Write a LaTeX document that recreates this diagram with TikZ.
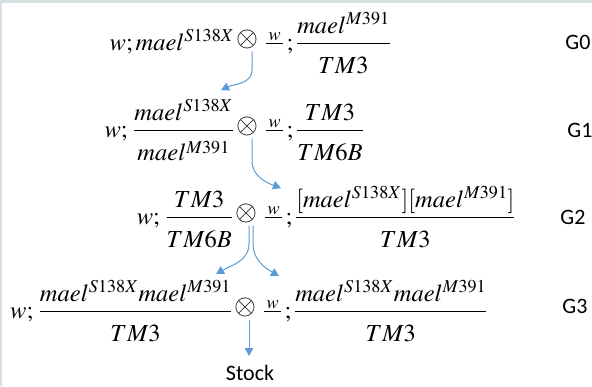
\documentclass[tikz,border=0pt]{standalone}
\usepackage{amsmath}
\usepackage{mathptmx}
\usepackage[no-math]{fontspec}
\newfontfamily\labelfont{Carlito}
\usepackage{tikz}
\usetikzlibrary{arrows.meta, positioning, calc}
\definecolor{flowblue}{HTML}{5B9BD5}
\definecolor{framegray}{HTML}{D9E0E3}
% lower the denominators as in the original typesetting
\newcommand{\dstrut}{\rule{0pt}{26pt}}
\newcommand{\wbar}{\tfrac{\,w\,}{}}
\newcommand{\cross}{\raisebox{4pt}{\scalebox{1.15}{$\otimes$}}}

\begin{document}
\begin{tikzpicture}[
  x=1pt, y=1pt,
  eqfont/.style={font=\fontsize{24.5}{29}\selectfont},
  crossnode/.style={eqfont, anchor=base, inner sep=1.5pt},
  femalepart/.style={eqfont, anchor=base east, inner sep=0pt},
  malepart/.style={eqfont, anchor=base west, inner sep=0pt},
  genlabel/.style={font=\labelfont\fontsize{22}{24}\selectfont, inner sep=0pt},
  flow/.style={-{Triangle[length=8pt,width=8.5pt]}, flowblue, line width=1pt},
]

% --- frame ---
\useasboundingbox (0,0) rectangle (592,-386);
\fill[framegray] (0,0) rectangle (592,-386);
\fill[white] (2,-3) rectangle (592,-386);

% --- G0 ---
\node[crossnode] (g0x) at (247,-50) {\cross};
\node[femalepart] (g0f) at (g0x.base west) {$w;mael^{S138X}$};
\node[malepart] (g0m) at (g0x.base east) {$\;\wbar\,;\dfrac{mael^{M391}}{\dstrut TM3}$};
\node[genlabel] (g0l) at (578,-42) {G0};

% --- G1 ---
\node[crossnode] (g1x) at (247,-137) {\cross};
\node[femalepart] (g1f) at (g1x.base west) {$w;\,\dfrac{mael^{S138X}}{\dstrut mael^{M391}}$};
\node[malepart] (g1m) at (g1x.base east) {$\;\wbar\,;\dfrac{TM3}{\dstrut TM6B}$};
\node[genlabel] (g1l) at (580,-130) {G1};

% --- G2 ---
\node[crossnode] (g2x) at (246,-224) {\cross};
\node[femalepart] (g2f) at (g2x.base west) {$w;\,\dfrac{TM3}{\dstrut TM6B}$};
\node[malepart] (g2m) at (g2x.base east) {$\;\wbar\,;\dfrac{[mael^{S138X}][mael^{M391}]}{\dstrut TM3}$};
\node[genlabel] (g2l) at (573,-217) {G2};

% --- G3 ---
\node[crossnode] (g3x) at (245,-318) {\cross};
\node[femalepart] (g3f) at (g3x.base west) {$w;\,\dfrac{mael^{S138X}mael^{M391}}{\dstrut TM3}$};
\node[malepart] (g3m) at (g3x.base east) {$\;\wbar\,;\dfrac{mael^{S138X}mael^{M391}}{\dstrut TM3}$};
\node[genlabel] (g3l) at (575,-306) {G3};

\node[genlabel, anchor=base] (stock) at (250,-380) {Stock};

% --- arrow ends ---
\coordinate (a0end) at (221,-90);
\coordinate (a1end) at (281,-188);
\coordinate (a2left) at (216,-274);
\coordinate (a2right) at (279,-276);
\coordinate (a3end) at (249,-356);

% --- arrows between generations ---
\draw[flow] ($(g0x.south)+(5,0)$) -- ++(0,-18) to[out=-90, in=25] (a0end);
\draw[flow] ($(g1x.south)+(5,0)$) -- ++(0,-22) to[out=-90, in=160] (a1end);
\draw[flow] ($(g2x.south)+(3,0)$) -- ++(0,-18) to[out=-90, in=30] (a2left);
\draw[flow] ($(g2x.south)+(7,0)$) -- ++(0,-18) to[out=-90, in=150] (a2right);
\draw[flow] ($(g3x.south)+(4,0)$) -- (a3end);

\end{tikzpicture}
\end{document}
